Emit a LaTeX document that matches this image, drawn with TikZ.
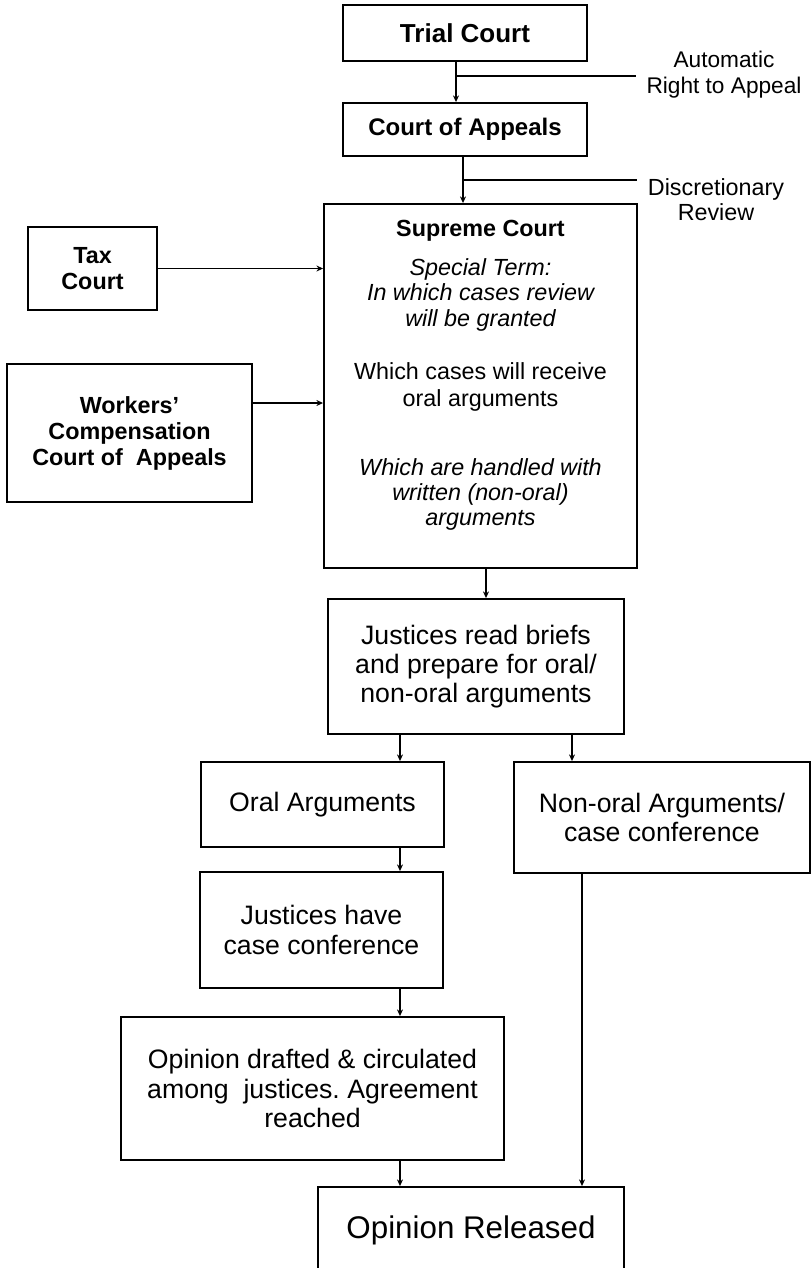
\documentclass[tikz,border=0pt]{standalone}
\usepackage{fontspec}
\setmainfont{Liberation Sans}
\usepackage{tikz}
\usetikzlibrary{arrows.meta}
\usetikzlibrary{positioning}
\frenchspacing

\begin{document}
\begin{tikzpicture}[x=0.75pt,y=-0.75pt]
	\useasboundingbox (0,0) rectangle (811,1268);
	\clip (0,0) rectangle (811,1268);
	\begin{scope}[every node/.style={rectangle, draw, line width=1.4pt, align=center, inner sep=2pt, font=\fontsize{20}{22}\selectfont}]
		\node[minimum width=183pt, minimum height=42pt, font=\bfseries\fontsize{19.5}{22}\selectfont] (1) at (465,33) {Trial Court};
		\node[minimum width=183pt, minimum height=39.75pt, font=\bfseries\fontsize{18}{20}\selectfont] (2) at (465,129.5) {Court of Appeals};
		\node[minimum width=234.75pt, minimum height=273pt] (3) at (480.5,386) {};
		\node[minimum width=96.75pt, minimum height=62.25pt, font=\bfseries\fontsize{17.5}{19}\selectfont] (4) at (92.5,268.5) {Tax\\Court};
		\node[minimum width=183.75pt, minimum height=103.5pt, font=\bfseries\fontsize{17.5}{19.5}\selectfont] (5) at (129.5,433) {Workers’\\Compensation\\Court of~ Appeals};
		\node[minimum width=222pt, minimum height=101.25pt] (6) at (476,666.5) {Justices read briefs\\and prepare for oral/\\non-oral arguments};
		\node[minimum width=182.25pt, minimum height=63.75pt] (7) at (322.5,804.5) {Oral Arguments};
		\node[minimum width=222pt, minimum height=83.25pt] (8) at (662,817.5) {Non-oral Arguments/\\case conference};
		\node[minimum width=182.25pt, minimum height=87pt] (9) at (321.5,930) {Justices have\\case conference};
		\node[minimum width=287.25pt, minimum height=107.25pt] (10) at (312.5,1088.5) {Opinion drafted \& circulated\\among~ justices. Agreement\\reached};
		\node[minimum width=229.5pt, minimum height=64.5pt, font=\fontsize{23.5}{26}\selectfont] (11) at (471,1230) {Opinion Released};
	\end{scope}

	\node[align=center, inner xsep=8pt, font=\fontsize{17}{19.5}\selectfont] (12) at (724,75) {Automatic\\Right to Appeal};
	\node[align=center, inner xsep=8pt, font=\fontsize{17.5}{18.75}\selectfont] (13) at (716,199.5) {Discretionary\\Review};
	\node[align=center, anchor=north, inner sep=0pt, font=\fontsize{17.5}{19}\selectfont] (14) at (480.5,220) {{\bfseries Supreme Court}\\[10.25pt]
		{\itshape Special Term:}\\
		{\itshape In which cases review}\\
		{\itshape will be granted}\\[20.75pt]
		Which cases will receive\\[1.25pt]
		oral arguments\\[32.75pt]
		{\itshape Which are handled with}\\
		{\itshape written (non-oral)}\\
		{\itshape arguments}};

	\coordinate (a) at (456,76);
	\coordinate (b) at (463,180);
	\coordinate (c) at (400,0);
	\coordinate (d) at (572,0);
	\coordinate (e) at (582,0);
	\coordinate (f) at (486,0);
	\coordinate (g) at (252,403);

	\begin{scope}[>={Stealth[length=5pt,width=4.5pt]},
	              every edge/.style={draw=black, line width=1.1pt}]
		\path (1.south -| a) edge[->] (2.north -| a);
		\path (a) edge (12.west |- a);
		\path (2.south -| b) edge[->] (3.north -| b);
		\path (b) edge (13.west |- b);
		\path (4.east) edge[->] (4.east -| 3.west);
		\path (5.east |- g) edge[->] (3.west |- g);
		\path (3.south -| f) edge[->] (6.north -| f);
		\path (6.south -| c) edge[->] (7.north -| c);
		\path (6.south -| d) edge[->] (8.north -| d);
		\path (7.south -| c) edge[->] (9.north -| c);
		\path (9.south -| c) edge[->] (10.north -| c);
		\path (10.south -| c) edge[->] (11.north -| c);
		\path (8.south -| e) edge[->] (11.north -| e);
	\end{scope}
\end{tikzpicture}
\end{document}
